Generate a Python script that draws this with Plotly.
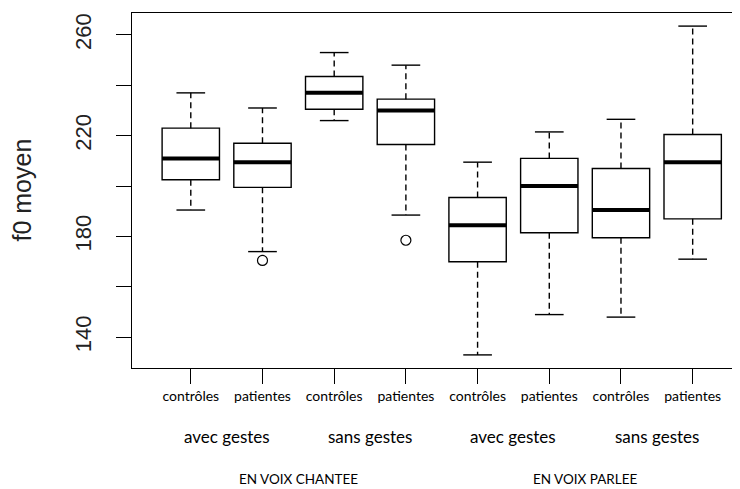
import plotly.graph_objects as go

# ---- data ----
positions = [1, 2, 3, 4, 5, 6, 7, 8]
tick_labels = ["contrôles", "patientes", "contrôles", "patientes",
               "contrôles", "patientes", "contrôles", "patientes"]
gesture_labels = ["avec gestes", "sans gestes", "avec gestes", "sans gestes"]
voice_labels = ["EN VOIX CHANTEE", "EN VOIX PARLEE"]

medians = [211, 209.5, 237, 230, 184.5, 200, 190.5, 209.5]
q1 = [202.5, 199.5, 230.5, 216.5, 170, 181.5, 179.5, 187]
q3 = [223, 217, 243.5, 234.5, 195.5, 211, 207, 220.5]
whisk_lo = [190.5, 174, 226, 188.5, 133, 149, 148, 171]
whisk_hi = [237, 231, 253, 248, 209.5, 221.5, 226.5, 263.5]
outlier_pos = [2, 4]
outlier_val = [170.5, 178.5]

y_ticks = [140, 160, 180, 200, 220, 240, 260]
y_ticktext = ["140", "", "180", "", "220", "", "260"]

BOX_W = 0.8
CAP_W = 0.4
LW = 1.4

fig = go.Figure()

# box bodies (no whiskers: fences at quartiles)
fig.add_trace(go.Box(
    x=positions, q1=q1, median=medians, q3=q3,
    lowerfence=q1, upperfence=q3,
    width=BOX_W, whiskerwidth=0,
    fillcolor="white", line=dict(color="black", width=LW),
    boxpoints=False, hoverinfo="skip", showlegend=False,
))

# dashed whiskers
wx, wy = [], []
for i, p in enumerate(positions):
    wx += [p, p, None, p, p, None]
    wy += [q3[i], whisk_hi[i], None, q1[i], whisk_lo[i], None]
fig.add_trace(go.Scatter(x=wx, y=wy, mode="lines",
                         line=dict(color="black", width=LW, dash="6px,4px"),
                         hoverinfo="skip", showlegend=False))

# caps
cx, cy = [], []
for i, p in enumerate(positions):
    cx += [p - CAP_W / 2, p + CAP_W / 2, None, p - CAP_W / 2, p + CAP_W / 2, None]
    cy += [whisk_hi[i], whisk_hi[i], None, whisk_lo[i], whisk_lo[i], None]
fig.add_trace(go.Scatter(x=cx, y=cy, mode="lines",
                         line=dict(color="black", width=LW),
                         hoverinfo="skip", showlegend=False))

# thick medians
mx, my = [], []
for i, p in enumerate(positions):
    mx += [p - BOX_W / 2, p + BOX_W / 2, None]
    my += [medians[i], medians[i], None]
fig.add_trace(go.Scatter(x=mx, y=my, mode="lines",
                         line=dict(color="black", width=4),
                         hoverinfo="skip", showlegend=False))

# outliers
fig.add_trace(go.Scatter(x=outlier_pos, y=outlier_val, mode="markers",
                         marker=dict(symbol="circle-open", size=10,
                                     color="black", line=dict(width=1.2)),
                         hoverinfo="skip", showlegend=False))

# group annotations
annotations = []
for k, lab in enumerate(gesture_labels):
    xm = (positions[2 * k] + positions[2 * k + 1]) / 2
    annotations.append(dict(x=xm, y=0, xref="x", yref="paper", text=lab,
                            showarrow=False, yanchor="middle", yshift=-68,
                            font=dict(family="Lato", size=17, color="black")))
for k, lab in enumerate(voice_labels):
    xm = (positions[4 * k] + positions[4 * k + 3]) / 2
    annotations.append(dict(x=xm, y=0, xref="x", yref="paper", text=lab,
                            showarrow=False, yanchor="middle", yshift=-111,
                            font=dict(family="Lato", size=13.5, color="black")))
annotations.append(dict(x=0, y=0.5, xref="paper", yref="paper", text="f0 moyen",
                        showarrow=False, textangle=-90, xanchor="center",
                        yanchor="middle", xshift=-111,
                        font=dict(family="Liberation Sans", size=25, color="#222")))

# page body has an 8px margin, so the figure is sized to fill the rest of the window
fig.update_layout(
    width=732, height=481,
    margin=dict(l=124, r=0, t=5, b=121),
    paper_bgcolor="white", plot_bgcolor="white",
    showlegend=False,
    annotations=annotations,
    xaxis=dict(range=[0.18, 8.66], showgrid=False, zeroline=False,
               automargin=False,
               showline=True, mirror=True, linecolor="black", linewidth=LW,
               ticks="outside", ticklen=15, tickwidth=LW, tickcolor="black",
               tickvals=positions, ticktext=tick_labels,
               tickfont=dict(family="Lato", size=14, color="black")),
    yaxis=dict(range=[127.8, 268.7], showgrid=False, zeroline=False,
               automargin=False,
               showline=True, mirror=False, linecolor="black", linewidth=LW,
               ticks="outside", ticklen=15, tickwidth=LW, tickcolor="black",
               tickvals=y_ticks, ticktext=y_ticktext, tickangle=-90,
               ticklabelstandoff=16,
               tickfont=dict(family="Liberation Sans", size=22, color="#222")),
)

fig.write_html("out.html")
